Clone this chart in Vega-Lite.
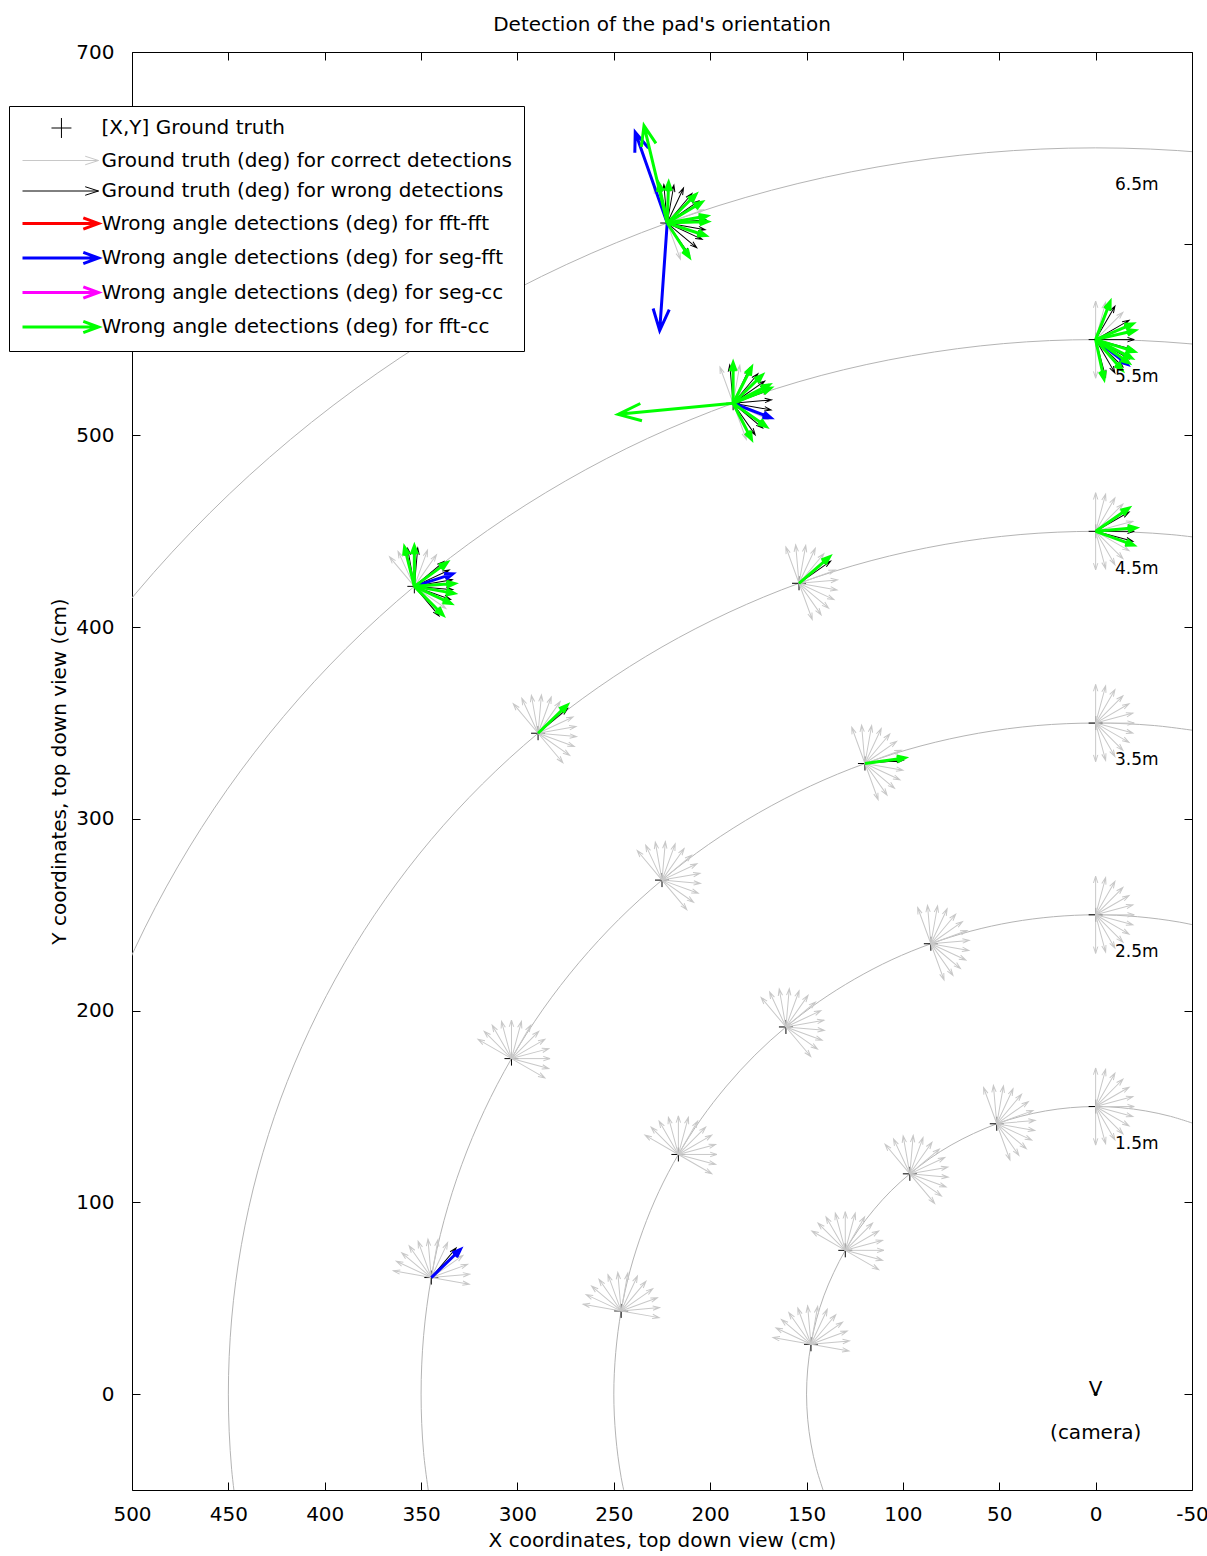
{
"$schema":"https://vega.github.io/schema/vega-lite/v6.json",
"autosize":{"type":"none"},
"padding":{"left":132,"top":52,"right":15,"bottom":66},
"width":1060,"height":1438,
"background":"white",
"title":{"text":"Detection of the pad's orientation","font":"DejaVu Sans","fontSize":20,"fontWeight":"normal","color":"black","anchor":"middle","offset":7},
"config":{"view":{"stroke":"black","strokeWidth":1},
"axis":{"labelFont":"DejaVu Sans","titleFont":"DejaVu Sans","labelFontSize":20,"titleFontSize":20,"titleFontWeight":"normal","labelColor":"black","titleColor":"black","tickColor":"black","tickSize":-8,"domain":false,"grid":false,"labelFlush":false,"labelOverlap":false,"labelExpr":"datum.value < 0 ? '-' + abs(datum.value) : '' + datum.value"}},
"resolve":{"axis":{"x":"independent","y":"independent"}},
"datasets":{
"arcs":[
{"r":150,"p":-20,"x":-51.3,"y":141.0},{"r":150,"p":-15,"x":-38.8,"y":144.9},{"r":150,"p":-10,"x":-26.0,"y":147.7},{"r":150,"p":-5,"x":-13.1,"y":149.4},{"r":150,"p":0,"x":0,"y":150},{"r":150,"p":5,"x":13.1,"y":149.4},{"r":150,"p":10,"x":26.0,"y":147.7},{"r":150,"p":15,"x":38.8,"y":144.9},{"r":150,"p":20,"x":51.3,"y":141.0},{"r":150,"p":25,"x":63.4,"y":135.9},{"r":150,"p":30,"x":75,"y":129.9},{"r":150,"p":35,"x":86.0,"y":122.9},{"r":150,"p":40,"x":96.4,"y":114.9},{"r":150,"p":45,"x":106.1,"y":106.1},{"r":150,"p":50,"x":114.9,"y":96.4},{"r":150,"p":55,"x":122.9,"y":86.0},{"r":150,"p":60,"x":129.9,"y":75},{"r":150,"p":65,"x":135.9,"y":63.4},{"r":150,"p":70,"x":141.0,"y":51.3},{"r":150,"p":75,"x":144.9,"y":38.8},{"r":150,"p":80,"x":147.7,"y":26.0},{"r":150,"p":85,"x":149.4,"y":13.1},{"r":150,"p":90,"x":150,"y":0},{"r":150,"p":95,"x":149.4,"y":-13.1},{"r":150,"p":100,"x":147.7,"y":-26.0},{"r":150,"p":105,"x":144.9,"y":-38.8},{"r":150,"p":110,"x":141.0,"y":-51.3},
{"r":250,"p":-15,"x":-64.7,"y":241.5},{"r":250,"p":-10,"x":-43.4,"y":246.2},{"r":250,"p":-5,"x":-21.8,"y":249.0},{"r":250,"p":0,"x":0,"y":250},{"r":250,"p":5,"x":21.8,"y":249.0},{"r":250,"p":10,"x":43.4,"y":246.2},{"r":250,"p":15,"x":64.7,"y":241.5},{"r":250,"p":20,"x":85.5,"y":234.9},{"r":250,"p":25,"x":105.7,"y":226.6},{"r":250,"p":30,"x":125,"y":216.5},{"r":250,"p":35,"x":143.4,"y":204.8},{"r":250,"p":40,"x":160.7,"y":191.5},{"r":250,"p":45,"x":176.8,"y":176.8},{"r":250,"p":50,"x":191.5,"y":160.7},{"r":250,"p":55,"x":204.8,"y":143.4},{"r":250,"p":60,"x":216.5,"y":125},{"r":250,"p":65,"x":226.6,"y":105.7},{"r":250,"p":70,"x":234.9,"y":85.5},{"r":250,"p":75,"x":241.5,"y":64.7},{"r":250,"p":80,"x":246.2,"y":43.4},{"r":250,"p":85,"x":249.0,"y":21.8},{"r":250,"p":90,"x":250,"y":0},{"r":250,"p":95,"x":249.0,"y":-21.8},{"r":250,"p":100,"x":246.2,"y":-43.4},{"r":250,"p":105,"x":241.5,"y":-64.7},
{"r":350,"p":-10,"x":-60.8,"y":344.7},{"r":350,"p":-5,"x":-30.5,"y":348.7},{"r":350,"p":0,"x":0,"y":350},{"r":350,"p":5,"x":30.5,"y":348.7},{"r":350,"p":10,"x":60.8,"y":344.7},{"r":350,"p":15,"x":90.6,"y":338.1},{"r":350,"p":20,"x":119.7,"y":328.9},{"r":350,"p":25,"x":147.9,"y":317.2},{"r":350,"p":30,"x":175,"y":303.1},{"r":350,"p":35,"x":200.8,"y":286.7},{"r":350,"p":40,"x":225.0,"y":268.1},{"r":350,"p":45,"x":247.5,"y":247.5},{"r":350,"p":50,"x":268.1,"y":225.0},{"r":350,"p":55,"x":286.7,"y":200.8},{"r":350,"p":60,"x":303.1,"y":175},{"r":350,"p":65,"x":317.2,"y":147.9},{"r":350,"p":70,"x":328.9,"y":119.7},{"r":350,"p":75,"x":338.1,"y":90.6},{"r":350,"p":80,"x":344.7,"y":60.8},{"r":350,"p":85,"x":348.7,"y":30.5},{"r":350,"p":90,"x":350,"y":0},{"r":350,"p":95,"x":348.7,"y":-30.5},{"r":350,"p":100,"x":344.7,"y":-60.8},
{"r":450,"p":-10,"x":-78.1,"y":443.2},{"r":450,"p":-5,"x":-39.2,"y":448.3},{"r":450,"p":0,"x":0,"y":450},{"r":450,"p":5,"x":39.2,"y":448.3},{"r":450,"p":10,"x":78.1,"y":443.2},{"r":450,"p":15,"x":116.5,"y":434.7},{"r":450,"p":20,"x":153.9,"y":422.9},{"r":450,"p":25,"x":190.2,"y":407.8},{"r":450,"p":30,"x":225,"y":389.7},{"r":450,"p":35,"x":258.1,"y":368.6},{"r":450,"p":40,"x":289.3,"y":344.7},{"r":450,"p":45,"x":318.2,"y":318.2},{"r":450,"p":50,"x":344.7,"y":289.3},{"r":450,"p":55,"x":368.6,"y":258.1},{"r":450,"p":60,"x":389.7,"y":225},{"r":450,"p":65,"x":407.8,"y":190.2},{"r":450,"p":70,"x":422.9,"y":153.9},{"r":450,"p":75,"x":434.7,"y":116.5},{"r":450,"p":80,"x":443.2,"y":78.1},{"r":450,"p":85,"x":448.3,"y":39.2},{"r":450,"p":90,"x":450,"y":0},{"r":450,"p":95,"x":448.3,"y":-39.2},{"r":450,"p":100,"x":443.2,"y":-78.1},
{"r":550,"p":-10,"x":-95.5,"y":541.6},{"r":550,"p":-5,"x":-47.9,"y":547.9},{"r":550,"p":0,"x":0,"y":550},{"r":550,"p":5,"x":47.9,"y":547.9},{"r":550,"p":10,"x":95.5,"y":541.6},{"r":550,"p":15,"x":142.4,"y":531.3},{"r":550,"p":20,"x":188.1,"y":516.8},{"r":550,"p":25,"x":232.4,"y":498.5},{"r":550,"p":30,"x":275,"y":476.3},{"r":550,"p":35,"x":315.5,"y":450.5},{"r":550,"p":40,"x":353.5,"y":421.3},{"r":550,"p":45,"x":388.9,"y":388.9},{"r":550,"p":50,"x":421.3,"y":353.5},{"r":550,"p":55,"x":450.5,"y":315.5},{"r":550,"p":60,"x":476.3,"y":275},{"r":550,"p":65,"x":498.5,"y":232.4},{"r":550,"p":70,"x":516.8,"y":188.1},
{"r":650,"p":-10,"x":-112.9,"y":640.1},{"r":650,"p":-5,"x":-56.7,"y":647.5},{"r":650,"p":0,"x":0,"y":650},{"r":650,"p":5,"x":56.7,"y":647.5},{"r":650,"p":10,"x":112.9,"y":640.1},{"r":650,"p":15,"x":168.2,"y":627.9},{"r":650,"p":20,"x":222.3,"y":610.8},{"r":650,"p":25,"x":274.7,"y":589.1},{"r":650,"p":30,"x":325,"y":562.9},{"r":650,"p":35,"x":372.8,"y":532.4},{"r":650,"p":40,"x":417.8,"y":497.9},{"r":650,"p":45,"x":459.6,"y":459.6},{"r":650,"p":50,"x":497.9,"y":417.8},{"r":650,"p":55,"x":532.4,"y":372.8}
],
"locs":[
{"x":0,"y":150,"c":"p"},{"x":51.3,"y":141,"c":"p"},{"x":96.4,"y":114.9,"c":"p"},{"x":129.9,"y":75,"c":"p"},{"x":147.7,"y":26,"c":"p"},
{"x":0,"y":250,"c":"p"},{"x":85.5,"y":234.9,"c":"p"},{"x":160.7,"y":191.5,"c":"p"},{"x":216.5,"y":125,"c":"p"},{"x":246.2,"y":43.4,"c":"p"},
{"x":0,"y":350,"c":"p"},{"x":119.7,"y":328.9,"c":"p"},{"x":225,"y":268.1,"c":"p"},{"x":303.1,"y":175,"c":"p"},{"x":344.7,"y":60.8,"c":"p"},
{"x":0,"y":450,"c":"p"},{"x":153.9,"y":422.9,"c":"p"},{"x":289.3,"y":344.7,"c":"p"},
{"x":0,"y":550,"c":"p"},{"x":188.1,"y":516.8,"c":"p"},{"x":353.5,"y":421.3,"c":"p"},
{"x":222.3,"y":610.8,"c":"p"}
],
"fans":[
{"x":0,"y":150,"a":-90,"c":"g"},{"x":0,"y":150,"a":-75,"c":"g"},{"x":0,"y":150,"a":-60,"c":"g"},{"x":0,"y":150,"a":-45,"c":"g"},{"x":0,"y":150,"a":-30,"c":"g"},{"x":0,"y":150,"a":-15,"c":"g"},{"x":0,"y":150,"a":0,"c":"g"},{"x":0,"y":150,"a":15,"c":"g"},{"x":0,"y":150,"a":30,"c":"g"},{"x":0,"y":150,"a":45,"c":"g"},{"x":0,"y":150,"a":60,"c":"g"},{"x":0,"y":150,"a":75,"c":"g"},{"x":0,"y":150,"a":90,"c":"g"},
{"x":51.3,"y":141,"a":-110,"c":"g"},{"x":51.3,"y":141,"a":-95,"c":"g"},{"x":51.3,"y":141,"a":-80,"c":"g"},{"x":51.3,"y":141,"a":-65,"c":"g"},{"x":51.3,"y":141,"a":-50,"c":"g"},{"x":51.3,"y":141,"a":-35,"c":"g"},{"x":51.3,"y":141,"a":-20,"c":"g"},{"x":51.3,"y":141,"a":-5,"c":"g"},{"x":51.3,"y":141,"a":10,"c":"g"},{"x":51.3,"y":141,"a":25,"c":"g"},{"x":51.3,"y":141,"a":40,"c":"g"},{"x":51.3,"y":141,"a":55,"c":"g"},{"x":51.3,"y":141,"a":70,"c":"g"},
{"x":96.4,"y":114.9,"a":-130,"c":"g"},{"x":96.4,"y":114.9,"a":-115,"c":"g"},{"x":96.4,"y":114.9,"a":-100,"c":"g"},{"x":96.4,"y":114.9,"a":-85,"c":"g"},{"x":96.4,"y":114.9,"a":-70,"c":"g"},{"x":96.4,"y":114.9,"a":-55,"c":"g"},{"x":96.4,"y":114.9,"a":-40,"c":"g"},{"x":96.4,"y":114.9,"a":-25,"c":"g"},{"x":96.4,"y":114.9,"a":-10,"c":"g"},{"x":96.4,"y":114.9,"a":5,"c":"g"},{"x":96.4,"y":114.9,"a":20,"c":"g"},{"x":96.4,"y":114.9,"a":35,"c":"g"},{"x":96.4,"y":114.9,"a":50,"c":"g"},
{"x":129.9,"y":75,"a":-150,"c":"g"},{"x":129.9,"y":75,"a":-135,"c":"g"},{"x":129.9,"y":75,"a":-120,"c":"g"},{"x":129.9,"y":75,"a":-105,"c":"g"},{"x":129.9,"y":75,"a":-90,"c":"g"},{"x":129.9,"y":75,"a":-75,"c":"g"},{"x":129.9,"y":75,"a":-60,"c":"g"},{"x":129.9,"y":75,"a":-45,"c":"g"},{"x":129.9,"y":75,"a":-30,"c":"g"},{"x":129.9,"y":75,"a":-15,"c":"g"},{"x":129.9,"y":75,"a":0,"c":"g"},{"x":129.9,"y":75,"a":15,"c":"g"},{"x":129.9,"y":75,"a":30,"c":"g"},
{"x":147.7,"y":26,"a":-170,"c":"g"},{"x":147.7,"y":26,"a":-155,"c":"g"},{"x":147.7,"y":26,"a":-140,"c":"g"},{"x":147.7,"y":26,"a":-125,"c":"g"},{"x":147.7,"y":26,"a":-110,"c":"g"},{"x":147.7,"y":26,"a":-95,"c":"g"},{"x":147.7,"y":26,"a":-80,"c":"g"},{"x":147.7,"y":26,"a":-65,"c":"g"},{"x":147.7,"y":26,"a":-50,"c":"g"},{"x":147.7,"y":26,"a":-35,"c":"g"},{"x":147.7,"y":26,"a":-20,"c":"g"},{"x":147.7,"y":26,"a":-5,"c":"g"},{"x":147.7,"y":26,"a":10,"c":"g"},
{"x":0,"y":250,"a":-90,"c":"g"},{"x":0,"y":250,"a":-75,"c":"g"},{"x":0,"y":250,"a":-60,"c":"g"},{"x":0,"y":250,"a":-45,"c":"g"},{"x":0,"y":250,"a":-30,"c":"g"},{"x":0,"y":250,"a":-15,"c":"g"},{"x":0,"y":250,"a":0,"c":"g"},{"x":0,"y":250,"a":15,"c":"g"},{"x":0,"y":250,"a":30,"c":"g"},{"x":0,"y":250,"a":45,"c":"g"},{"x":0,"y":250,"a":60,"c":"g"},{"x":0,"y":250,"a":75,"c":"g"},{"x":0,"y":250,"a":90,"c":"g"},
{"x":85.5,"y":234.9,"a":-110,"c":"g"},{"x":85.5,"y":234.9,"a":-95,"c":"g"},{"x":85.5,"y":234.9,"a":-80,"c":"g"},{"x":85.5,"y":234.9,"a":-65,"c":"g"},{"x":85.5,"y":234.9,"a":-50,"c":"g"},{"x":85.5,"y":234.9,"a":-35,"c":"g"},{"x":85.5,"y":234.9,"a":-20,"c":"g"},{"x":85.5,"y":234.9,"a":-5,"c":"g"},{"x":85.5,"y":234.9,"a":10,"c":"g"},{"x":85.5,"y":234.9,"a":25,"c":"g"},{"x":85.5,"y":234.9,"a":40,"c":"g"},{"x":85.5,"y":234.9,"a":55,"c":"g"},{"x":85.5,"y":234.9,"a":70,"c":"g"},
{"x":160.7,"y":191.5,"a":-130,"c":"g"},{"x":160.7,"y":191.5,"a":-115,"c":"g"},{"x":160.7,"y":191.5,"a":-100,"c":"g"},{"x":160.7,"y":191.5,"a":-85,"c":"g"},{"x":160.7,"y":191.5,"a":-70,"c":"g"},{"x":160.7,"y":191.5,"a":-55,"c":"g"},{"x":160.7,"y":191.5,"a":-40,"c":"g"},{"x":160.7,"y":191.5,"a":-25,"c":"g"},{"x":160.7,"y":191.5,"a":-10,"c":"g"},{"x":160.7,"y":191.5,"a":5,"c":"g"},{"x":160.7,"y":191.5,"a":20,"c":"g"},{"x":160.7,"y":191.5,"a":35,"c":"g"},{"x":160.7,"y":191.5,"a":50,"c":"g"},
{"x":216.5,"y":125,"a":-150,"c":"g"},{"x":216.5,"y":125,"a":-135,"c":"g"},{"x":216.5,"y":125,"a":-120,"c":"g"},{"x":216.5,"y":125,"a":-105,"c":"g"},{"x":216.5,"y":125,"a":-90,"c":"g"},{"x":216.5,"y":125,"a":-75,"c":"g"},{"x":216.5,"y":125,"a":-60,"c":"g"},{"x":216.5,"y":125,"a":-45,"c":"g"},{"x":216.5,"y":125,"a":-30,"c":"g"},{"x":216.5,"y":125,"a":-15,"c":"g"},{"x":216.5,"y":125,"a":0,"c":"g"},{"x":216.5,"y":125,"a":15,"c":"g"},{"x":216.5,"y":125,"a":30,"c":"g"},
{"x":246.2,"y":43.4,"a":-170,"c":"g"},{"x":246.2,"y":43.4,"a":-155,"c":"g"},{"x":246.2,"y":43.4,"a":-140,"c":"g"},{"x":246.2,"y":43.4,"a":-125,"c":"g"},{"x":246.2,"y":43.4,"a":-110,"c":"g"},{"x":246.2,"y":43.4,"a":-95,"c":"g"},{"x":246.2,"y":43.4,"a":-80,"c":"g"},{"x":246.2,"y":43.4,"a":-65,"c":"g"},{"x":246.2,"y":43.4,"a":-50,"c":"g"},{"x":246.2,"y":43.4,"a":-35,"c":"g"},{"x":246.2,"y":43.4,"a":-20,"c":"g"},{"x":246.2,"y":43.4,"a":-5,"c":"g"},{"x":246.2,"y":43.4,"a":10,"c":"g"},
{"x":0,"y":350,"a":-90,"c":"g"},{"x":0,"y":350,"a":-75,"c":"g"},{"x":0,"y":350,"a":-60,"c":"g"},{"x":0,"y":350,"a":-45,"c":"g"},{"x":0,"y":350,"a":-30,"c":"g"},{"x":0,"y":350,"a":-15,"c":"g"},{"x":0,"y":350,"a":0,"c":"g"},{"x":0,"y":350,"a":15,"c":"g"},{"x":0,"y":350,"a":30,"c":"g"},{"x":0,"y":350,"a":45,"c":"g"},{"x":0,"y":350,"a":60,"c":"g"},{"x":0,"y":350,"a":75,"c":"g"},{"x":0,"y":350,"a":90,"c":"g"},
{"x":119.7,"y":328.9,"a":-110,"c":"g"},{"x":119.7,"y":328.9,"a":-95,"c":"g"},{"x":119.7,"y":328.9,"a":-80,"c":"g"},{"x":119.7,"y":328.9,"a":-65,"c":"g"},{"x":119.7,"y":328.9,"a":-50,"c":"g"},{"x":119.7,"y":328.9,"a":-35,"c":"g"},{"x":119.7,"y":328.9,"a":-20,"c":"g"},{"x":119.7,"y":328.9,"a":10,"c":"g"},{"x":119.7,"y":328.9,"a":25,"c":"g"},{"x":119.7,"y":328.9,"a":40,"c":"g"},{"x":119.7,"y":328.9,"a":55,"c":"g"},{"x":119.7,"y":328.9,"a":70,"c":"g"},
{"x":225,"y":268.1,"a":-130,"c":"g"},{"x":225,"y":268.1,"a":-115,"c":"g"},{"x":225,"y":268.1,"a":-100,"c":"g"},{"x":225,"y":268.1,"a":-85,"c":"g"},{"x":225,"y":268.1,"a":-70,"c":"g"},{"x":225,"y":268.1,"a":-55,"c":"g"},{"x":225,"y":268.1,"a":-40,"c":"g"},{"x":225,"y":268.1,"a":-25,"c":"g"},{"x":225,"y":268.1,"a":-10,"c":"g"},{"x":225,"y":268.1,"a":5,"c":"g"},{"x":225,"y":268.1,"a":20,"c":"g"},{"x":225,"y":268.1,"a":35,"c":"g"},{"x":225,"y":268.1,"a":50,"c":"g"},
{"x":303.1,"y":175,"a":-150,"c":"g"},{"x":303.1,"y":175,"a":-135,"c":"g"},{"x":303.1,"y":175,"a":-120,"c":"g"},{"x":303.1,"y":175,"a":-105,"c":"g"},{"x":303.1,"y":175,"a":-90,"c":"g"},{"x":303.1,"y":175,"a":-75,"c":"g"},{"x":303.1,"y":175,"a":-60,"c":"g"},{"x":303.1,"y":175,"a":-45,"c":"g"},{"x":303.1,"y":175,"a":-30,"c":"g"},{"x":303.1,"y":175,"a":-15,"c":"g"},{"x":303.1,"y":175,"a":0,"c":"g"},{"x":303.1,"y":175,"a":15,"c":"g"},{"x":303.1,"y":175,"a":30,"c":"g"},
{"x":344.7,"y":60.8,"a":-170,"c":"g"},{"x":344.7,"y":60.8,"a":-155,"c":"g"},{"x":344.7,"y":60.8,"a":-140,"c":"g"},{"x":344.7,"y":60.8,"a":-125,"c":"g"},{"x":344.7,"y":60.8,"a":-110,"c":"g"},{"x":344.7,"y":60.8,"a":-95,"c":"g"},{"x":344.7,"y":60.8,"a":-80,"c":"g"},{"x":344.7,"y":60.8,"a":-65,"c":"g"},{"x":344.7,"y":60.8,"a":-35,"c":"g"},{"x":344.7,"y":60.8,"a":-20,"c":"g"},{"x":344.7,"y":60.8,"a":-5,"c":"g"},{"x":344.7,"y":60.8,"a":10,"c":"g"},
{"x":0,"y":450,"a":-90,"c":"g"},{"x":0,"y":450,"a":-75,"c":"g"},{"x":0,"y":450,"a":-60,"c":"g"},{"x":0,"y":450,"a":-45,"c":"g"},{"x":0,"y":450,"a":-15,"c":"g"},{"x":0,"y":450,"a":30,"c":"g"},{"x":0,"y":450,"a":45,"c":"g"},{"x":0,"y":450,"a":60,"c":"g"},{"x":0,"y":450,"a":75,"c":"g"},{"x":0,"y":450,"a":90,"c":"g"},
{"x":153.9,"y":422.9,"a":-110,"c":"g"},{"x":153.9,"y":422.9,"a":-95,"c":"g"},{"x":153.9,"y":422.9,"a":-80,"c":"g"},{"x":153.9,"y":422.9,"a":-65,"c":"g"},{"x":153.9,"y":422.9,"a":-50,"c":"g"},{"x":153.9,"y":422.9,"a":-20,"c":"g"},{"x":153.9,"y":422.9,"a":-5,"c":"g"},{"x":153.9,"y":422.9,"a":10,"c":"g"},{"x":153.9,"y":422.9,"a":25,"c":"g"},{"x":153.9,"y":422.9,"a":40,"c":"g"},{"x":153.9,"y":422.9,"a":55,"c":"g"},{"x":153.9,"y":422.9,"a":70,"c":"g"},
{"x":289.3,"y":344.7,"a":-130,"c":"g"},{"x":289.3,"y":344.7,"a":-115,"c":"g"},{"x":289.3,"y":344.7,"a":-100,"c":"g"},{"x":289.3,"y":344.7,"a":-85,"c":"g"},{"x":289.3,"y":344.7,"a":-70,"c":"g"},{"x":289.3,"y":344.7,"a":-55,"c":"g"},{"x":289.3,"y":344.7,"a":-25,"c":"g"},{"x":289.3,"y":344.7,"a":-10,"c":"g"},{"x":289.3,"y":344.7,"a":5,"c":"g"},{"x":289.3,"y":344.7,"a":20,"c":"g"},{"x":289.3,"y":344.7,"a":35,"c":"g"},{"x":289.3,"y":344.7,"a":50,"c":"g"},
{"x":0,"y":550,"a":-90,"c":"g"},{"x":0,"y":550,"a":-75,"c":"g"},{"x":0,"y":550,"a":-45,"c":"g"},{"x":0,"y":550,"a":-15,"c":"g"},{"x":0,"y":550,"a":90,"c":"g"},
{"x":188.1,"y":516.8,"a":-110,"c":"g"},{"x":188.1,"y":516.8,"a":-80,"c":"g"},{"x":188.1,"y":516.8,"a":25,"c":"g"},{"x":188.1,"y":516.8,"a":70,"c":"g"},
{"x":353.5,"y":421.3,"a":-130,"c":"g"},{"x":353.5,"y":421.3,"a":-115,"c":"g"},{"x":353.5,"y":421.3,"a":-70,"c":"g"},{"x":353.5,"y":421.3,"a":-55,"c":"g"},{"x":353.5,"y":421.3,"a":35,"c":"g"},
{"x":222.3,"y":610.8,"a":-110,"c":"g"},{"x":222.3,"y":610.8,"a":-20,"c":"g"},{"x":222.3,"y":610.8,"a":70,"c":"g"},
{"x":119.7,"y":328.9,"a":-5,"c":"k"},
{"x":344.7,"y":60.8,"a":-50,"c":"k"},
{"x":0,"y":450,"a":-30,"c":"k"},{"x":0,"y":450,"a":0,"c":"k"},{"x":0,"y":450,"a":15,"c":"k"},
{"x":153.9,"y":422.9,"a":-35,"c":"k"},
{"x":289.3,"y":344.7,"a":-40,"c":"k"},
{"x":0,"y":550,"a":-60,"c":"k"},{"x":0,"y":550,"a":-30,"c":"k"},{"x":0,"y":550,"a":0,"c":"k"},{"x":0,"y":550,"a":15,"c":"k"},{"x":0,"y":550,"a":30,"c":"k"},{"x":0,"y":550,"a":45,"c":"k"},{"x":0,"y":550,"a":60,"c":"k"},{"x":0,"y":550,"a":75,"c":"k"},
{"x":188.1,"y":516.8,"a":-95,"c":"k"},{"x":188.1,"y":516.8,"a":-65,"c":"k"},{"x":188.1,"y":516.8,"a":-50,"c":"k"},{"x":188.1,"y":516.8,"a":-35,"c":"k"},{"x":188.1,"y":516.8,"a":-20,"c":"k"},{"x":188.1,"y":516.8,"a":-5,"c":"k"},{"x":188.1,"y":516.8,"a":10,"c":"k"},{"x":188.1,"y":516.8,"a":40,"c":"k"},{"x":188.1,"y":516.8,"a":55,"c":"k"},
{"x":353.5,"y":421.3,"a":-100,"c":"k"},{"x":353.5,"y":421.3,"a":-85,"c":"k"},{"x":353.5,"y":421.3,"a":-40,"c":"k"},{"x":353.5,"y":421.3,"a":-25,"c":"k"},{"x":353.5,"y":421.3,"a":-10,"c":"k"},{"x":353.5,"y":421.3,"a":5,"c":"k"},{"x":353.5,"y":421.3,"a":20,"c":"k"},{"x":353.5,"y":421.3,"a":50,"c":"k"},
{"x":222.3,"y":610.8,"a":-95,"c":"k"},{"x":222.3,"y":610.8,"a":-80,"c":"k"},{"x":222.3,"y":610.8,"a":-65,"c":"k"},{"x":222.3,"y":610.8,"a":-50,"c":"k"},{"x":222.3,"y":610.8,"a":-35,"c":"k"},{"x":222.3,"y":610.8,"a":-5,"c":"k"},{"x":222.3,"y":610.8,"a":10,"c":"k"},{"x":222.3,"y":610.8,"a":25,"c":"k"},{"x":222.3,"y":610.8,"a":40,"c":"k"},{"x":222.3,"y":610.8,"a":55,"c":"k"}
],
"wrong":[
{"x":344.7,"y":60.8,"a":-44,"len":21,"c":"b"},
{"x":0,"y":550,"a":38,"len":21,"c":"b"},
{"x":188.1,"y":516.8,"a":21,"len":21,"c":"b"},
{"x":353.5,"y":421.3,"a":-18,"len":21,"c":"b"},
{"x":222.3,"y":610.8,"a":-109.4,"len":50,"c":"b"},
{"x":222.3,"y":610.8,"a":94,"len":56,"c":"b"},
{"x":119.7,"y":328.9,"a":-8,"len":21,"c":"v"},
{"x":0,"y":450,"a":-35,"len":21,"c":"v"},{"x":0,"y":450,"a":-5,"len":21,"c":"v"},{"x":0,"y":450,"a":20,"len":21,"c":"v"},
{"x":153.9,"y":422.9,"a":-41,"len":21,"c":"v"},
{"x":289.3,"y":344.7,"a":-44,"len":21,"c":"v"},
{"x":0,"y":550,"a":-69,"len":21,"c":"v"},{"x":0,"y":550,"a":-23,"len":21,"c":"v"},{"x":0,"y":550,"a":-13,"len":21,"c":"v"},{"x":0,"y":550,"a":17,"len":21,"c":"v"},{"x":0,"y":550,"a":27,"len":21,"c":"v"},{"x":0,"y":550,"a":35,"len":21,"c":"v"},{"x":0,"y":550,"a":49,"len":21,"c":"v"},{"x":0,"y":550,"a":78,"len":21,"c":"v"},
{"x":188.1,"y":516.8,"a":-90,"len":21,"c":"v"},{"x":188.1,"y":516.8,"a":-63,"len":21,"c":"v"},{"x":188.1,"y":516.8,"a":-44,"len":21,"c":"v"},{"x":188.1,"y":516.8,"a":-27,"len":21,"c":"v"},{"x":188.1,"y":516.8,"a":-22,"len":21,"c":"v"},{"x":188.1,"y":516.8,"a":35,"len":21,"c":"v"},{"x":188.1,"y":516.8,"a":63,"len":21,"c":"v"},{"x":188.1,"y":516.8,"a":174.5,"len":60,"c":"v"},
{"x":353.5,"y":421.3,"a":-104,"len":21,"c":"v"},{"x":353.5,"y":421.3,"a":-90,"len":21,"c":"v"},{"x":353.5,"y":421.3,"a":-36,"len":21,"c":"v"},{"x":353.5,"y":421.3,"a":-4,"len":21,"c":"v"},{"x":353.5,"y":421.3,"a":10,"len":21,"c":"v"},{"x":353.5,"y":421.3,"a":25,"len":21,"c":"v"},{"x":353.5,"y":421.3,"a":45,"len":21,"c":"v"},
{"x":222.3,"y":610.8,"a":-102,"len":21,"c":"v"},{"x":222.3,"y":610.8,"a":-88,"len":21,"c":"v"},{"x":222.3,"y":610.8,"a":-45,"len":21,"c":"v"},{"x":222.3,"y":610.8,"a":-31,"len":21,"c":"v"},{"x":222.3,"y":610.8,"a":-10,"len":21,"c":"v"},{"x":222.3,"y":610.8,"a":-2,"len":21,"c":"v"},{"x":222.3,"y":610.8,"a":18,"len":21,"c":"v"},{"x":222.3,"y":610.8,"a":57,"len":21,"c":"v"},{"x":222.3,"y":610.8,"a":-103.4,"len":52,"c":"v"}
],
"notes":[
{"x":-10,"y":630.5,"t":"6.5m"},{"x":-10,"y":530.5,"t":"5.5m"},{"x":-10,"y":430.5,"t":"4.5m"},{"x":-10,"y":330.5,"t":"3.5m"},{"x":-10,"y":230.5,"t":"2.5m"},{"x":-10,"y":130.5,"t":"1.5m"}
],
"cam":[{"x":0,"y":2.6,"t":"V"},{"x":0,"y":-20.3,"t":"(camera)"}],
"camdot":[{"x":0,"y":0}]
},
"layer":[
{"data":{"name":"arcs"},
 "mark":{"type":"line","color":"#b4b4b4","strokeWidth":1,"clip":true,"interpolate":"cardinal"},
 "encoding":{
  "x":{"field":"x","type":"quantitative","scale":{"domain":[-50,500],"reverse":true,"nice":false,"zero":false},
       "axis":{"orient":"bottom","values":[500,450,400,350,300,250,200,150,100,50,0,-50],"title":"X coordinates, top down view (cm)","labelPadding":22,"titlePadding":6}},
  "y":{"field":"y","type":"quantitative","scale":{"domain":[-50,700],"nice":false,"zero":false},
       "axis":{"orient":"left","values":[0,100,200,300,400,500,600,700],"title":"Y coordinates, top down view (cm)","labelPadding":26,"titlePadding":6}},
  "detail":{"field":"r","type":"nominal"},
  "order":{"field":"p","type":"quantitative"}}},
{"data":{"name":"locs"},
 "mark":{"type":"point","shape":"M-1,0L1,0M0,-1L0,1","size":196,"filled":false,"strokeWidth":1,"opacity":1},
 "encoding":{
  "x":{"field":"x","type":"quantitative","axis":null},
  "y":{"field":"y","type":"quantitative","axis":null},
  "stroke":{"field":"c","type":"nominal","scale":{"domain":["p","g","k","r","b","m","v"],"range":["#000000","#c8c8c8","#000000","#ff0000","#0000ff","#ff00ff","#00ff00"]},
   "legend":{"orient":"none","legendX":-123,"legendY":54,"title":null,"strokeColor":"black","fillColor":"white","padding":12,"labelFont":"DejaVu Sans","labelFontSize":20,"labelColor":"black","labelLimit":800,"labelOffset":68,"rowPadding":10.5,"symbolSize":361,"symbolOffset":-9.5,"symbolOpacity":1,
    "labelExpr":"datum.value == 'p' ? '[X,Y] Ground truth' : datum.value == 'g' ? 'Ground truth (deg) for correct detections' : datum.value == 'k' ? 'Ground truth (deg) for wrong detections' : datum.value == 'r' ? 'Wrong angle detections (deg) for fft-fft' : datum.value == 'b' ? 'Wrong angle detections (deg) for seg-fft' : datum.value == 'm' ? 'Wrong angle detections (deg) for seg-cc' : 'Wrong angle detections (deg) for fft-cc'"}}}},
{"data":{"name":"fans"},
 "mark":{"type":"point","size":93,"filled":false,"opacity":1},
 "encoding":{
  "x":{"field":"x","type":"quantitative","axis":null},
  "y":{"field":"y","type":"quantitative","axis":null},
  "angle":{"field":"a","type":"quantitative","scale":null},
  "strokeWidth":{"field":"c","type":"nominal","scale":{"type":"ordinal","domain":["p","g","k","r","b","m","v"],"range":[1,1,1,3,3,3,3]}},
  "shape":{"field":"c","type":"nominal","scale":{"domain":["p","g","k","r","b","m","v"],"range":["M3.05,0L5.15,0M4.1,-1.05L4.1,1.05","M0,0L8,0M6.6,-0.45L8,0L6.6,0.45","M0,0L8,0M6.6,-0.45L8,0L6.6,0.45","M0,0L8,0M6.4,-0.6L8,0L6.4,0.6","M0,0L8,0M6.4,-0.6L8,0L6.4,0.6","M0,0L8,0M6.4,-0.6L8,0L6.4,0.6","M0,0L8,0M6.4,-0.6L8,0L6.4,0.6"]}},
  "stroke":{"field":"c","type":"nominal","scale":{"domain":["p","g","k","r","b","m","v"],"range":["#000000","#c8c8c8","#000000","#ff0000","#0000ff","#ff00ff","#00ff00"]}}}},
{"data":{"name":"wrong"},
 "mark":{"type":"point","filled":false,"opacity":1},
 "encoding":{
  "x":{"field":"x","type":"quantitative","axis":null},
  "y":{"field":"y","type":"quantitative","axis":null},
  "angle":{"field":"a","type":"quantitative","scale":null},
  "size":{"field":"len","type":"quantitative","scale":{"type":"pow","exponent":2,"domain":[0,100],"range":[0,2316]},"legend":null},
  "strokeWidth":{"field":"c","type":"nominal","scale":{"type":"ordinal","domain":["p","g","k","r","b","m","v"],"range":[1,1,1,3,3,3,3]}},
  "shape":{"field":"c","type":"nominal","scale":{"domain":["p","g","k","r","b","m","v"],"range":["M3.05,0L5.15,0M4.1,-1.05L4.1,1.05","M0,0L8,0M6.6,-0.45L8,0L6.6,0.45","M0,0L8,0M6.6,-0.45L8,0L6.6,0.45","M0,0L8,0M6.4,-0.6L8,0L6.4,0.6","M0,0L8,0M6.4,-0.6L8,0L6.4,0.6","M0,0L8,0M6.4,-0.6L8,0L6.4,0.6","M0,0L8,0M6.4,-0.6L8,0L6.4,0.6"]}},
  "stroke":{"field":"c","type":"nominal","scale":{"domain":["p","g","k","r","b","m","v"],"range":["#000000","#c8c8c8","#000000","#ff0000","#0000ff","#ff00ff","#00ff00"]}}}},
{"data":{"name":"notes"},
 "mark":{"type":"text","align":"left","baseline":"middle","font":"DejaVu Sans","fontSize":17,"color":"black"},
 "encoding":{
  "x":{"field":"x","type":"quantitative","axis":{"orient":"top","values":[500,450,400,350,300,250,200,150,100,50,0,-50],"labels":false,"title":null}},
  "y":{"field":"y","type":"quantitative","axis":{"orient":"right","values":[0,100,200,300,400,500,600,700],"labels":false,"title":null}},
  "text":{"field":"t","type":"nominal"}}},
{"data":{"name":"cam"},
 "mark":{"type":"text","align":"center","baseline":"middle","font":"DejaVu Sans","fontSize":20,"color":"black"},
 "encoding":{
  "x":{"field":"x","type":"quantitative","axis":null},
  "y":{"field":"y","type":"quantitative","axis":null},
  "text":{"field":"t","type":"nominal"}}},
{"data":{"name":"camdot"},
 "mark":{"type":"point","shape":"circle","filled":true,"color":"black","size":14,"opacity":1},
 "encoding":{
  "x":{"field":"x","type":"quantitative","axis":null},
  "y":{"field":"y","type":"quantitative","axis":null}}}
]
}
